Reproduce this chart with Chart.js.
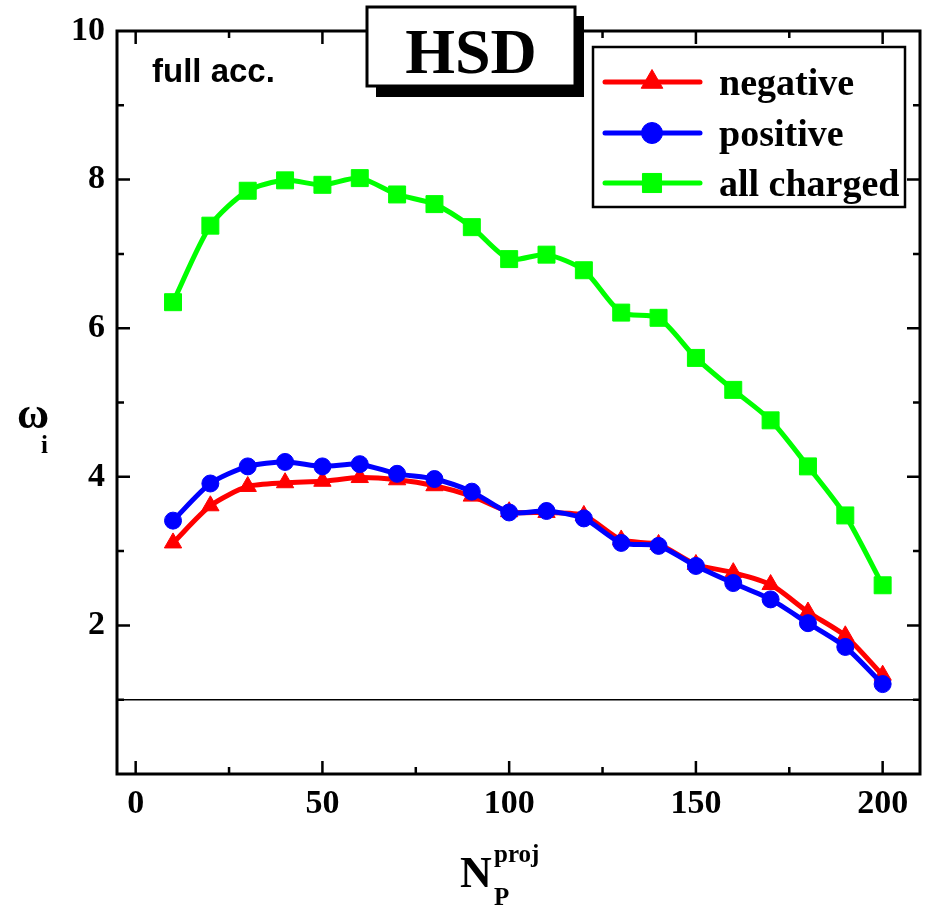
<!DOCTYPE html>
<html>
<head>
<meta charset="utf-8">
<script src="https://cdn.jsdelivr.net/npm/chart.js@4/dist/chart.umd.min.js"></script>
<style>
  html, body { margin: 0; padding: 0; background: #ffffff; }
  canvas { display: block; }
</style>
</head>
<body>
<canvas id="chart" width="933" height="907"></canvas>
<script>
// Number of projectile participants
const nProj = [10, 20, 30, 40, 50, 60, 70, 80, 90, 100, 110, 120, 130, 140, 150, 160, 170, 180, 190, 200];

// Scaled variance omega_i per charge class
const negative   = [3.11, 3.61, 3.87, 3.92, 3.94, 3.99, 3.96, 3.88, 3.74, 3.53, 3.52, 3.48, 3.15, 3.09, 2.82, 2.71, 2.55, 2.18, 1.86, 1.33];
const positive   = [3.41, 3.91, 4.14, 4.20, 4.14, 4.17, 4.04, 3.97, 3.80, 3.52, 3.54, 3.44, 3.11, 3.07, 2.80, 2.57, 2.35, 2.03, 1.71, 1.21];
const allCharged = [6.35, 7.38, 7.85, 7.99, 7.93, 8.02, 7.80, 7.67, 7.36, 6.93, 6.99, 6.78, 6.21, 6.14, 5.60, 5.17, 4.76, 4.14, 3.48, 2.54];

const seriesNames = ['negative', 'positive', 'all charged'];

// Labelled ticks and minor tick spacing
const xTicks = [0, 50, 100, 150, 200];
const yTicks = [2, 4, 6, 8, 10];
const xMinorStep = 25;
const yMinorStep = 1;

// Poisson reference level
const poissonLevel = 1;

const SERIF = '"Liberation Serif", "Times New Roman", serif';
const SANS = '"Liberation Sans", Arial, sans-serif';

function toPoints(values) {
  return nProj.map((x, i) => ({ x: x, y: values[i] }));
}

const series = [
  { label: seriesNames[0], data: toPoints(negative),   color: '#ff0000', style: 'triangle', radius: 10,  legendRadius: 12.5, order: 1 },
  { label: seriesNames[1], data: toPoints(positive),   color: '#0000ff', style: 'circle',   radius: 8.5, legendRadius: 10.5, order: 0 },
  { label: seriesNames[2], data: toPoints(allCharged), color: '#00ff00', style: 'rect',     radius: 12,  legendRadius: 13.5, order: 2 }
];

const datasets = series.map(s => ({
  label: s.label,
  data: s.data,
  borderColor: s.color,
  backgroundColor: s.color,
  pointBackgroundColor: s.color,
  pointBorderColor: s.color,
  pointStyle: s.style,
  pointRadius: s.radius,
  pointBorderWidth: 1,
  borderWidth: 5,
  tension: 0.25,
  order: s.order,
  clip: false
}));

// Reference line, frame with inward ticks, legend, tags and axis titles
const decorations = {
  id: 'decorations',
  beforeDatasetsDraw(chart) {
    const { ctx, chartArea: a, scales: { y } } = chart;
    const py = y.getPixelForValue(poissonLevel);
    ctx.save();
    ctx.strokeStyle = '#000';
    ctx.lineWidth = 1.5;
    ctx.beginPath();
    ctx.moveTo(a.left, py);
    ctx.lineTo(a.right, py);
    ctx.stroke();
    ctx.restore();
  },
  afterDatasetsDraw(chart) {
    const { ctx, chartArea: a, scales: { x, y } } = chart;
    ctx.save();

    // frame
    ctx.strokeStyle = '#000';
    ctx.lineWidth = 3;
    ctx.strokeRect(a.left, a.top, a.right - a.left, a.bottom - a.top);

    // ticks on all four sides
    ctx.lineWidth = 2.5;
    const majorLen = 13, minorLen = 7;
    ctx.beginPath();
    for (let v = Math.ceil(x.min / xMinorStep) * xMinorStep; v <= x.max; v += xMinorStep) {
      const px = x.getPixelForValue(v);
      const len = xTicks.includes(v) ? majorLen : minorLen;
      ctx.moveTo(px, a.bottom); ctx.lineTo(px, a.bottom - len);
      ctx.moveTo(px, a.top); ctx.lineTo(px, a.top + len);
    }
    for (let v = Math.ceil(y.min / yMinorStep) * yMinorStep + yMinorStep; v < y.max; v += yMinorStep) {
      const py = y.getPixelForValue(v);
      const len = yTicks.includes(v) ? majorLen : minorLen;
      ctx.moveTo(a.left, py); ctx.lineTo(a.left + len, py);
      ctx.moveTo(a.right, py); ctx.lineTo(a.right - len, py);
    }
    ctx.stroke();

    // "full acc." tag
    ctx.fillStyle = '#000';
    ctx.font = 'bold 33px ' + SANS;
    ctx.textAlign = 'left';
    ctx.textBaseline = 'alphabetic';
    ctx.fillText('full acc.', a.left + 35, a.top + 51);

    // HSD box with drop shadow
    const bx = 367, by = 7, bw = 208, bh = 79, sh = 9;
    ctx.fillStyle = '#000';
    ctx.fillRect(bx + sh, by + sh, bw, bh + 2);
    ctx.fillStyle = '#fff';
    ctx.fillRect(bx, by, bw, bh);
    ctx.strokeStyle = '#000';
    ctx.lineWidth = 3;
    ctx.strokeRect(bx, by, bw, bh);
    ctx.fillStyle = '#000';
    ctx.font = 'bold 64px ' + SERIF;
    ctx.textAlign = 'center';
    ctx.fillText('HSD', bx + bw / 2, by + 66);

    // legend
    const lx = 593, ly = 47, lw = 312, lh = 160;
    ctx.fillStyle = '#fff';
    ctx.fillRect(lx, ly, lw, lh);
    ctx.lineWidth = 2.5;
    ctx.strokeRect(lx, ly, lw, lh);
    const rowY = [82, 133, 183];
    chart.data.datasets.forEach((ds, i) => {
      const ry = rowY[i];
      ctx.strokeStyle = ds.borderColor;
      ctx.lineWidth = 5;
      ctx.lineCap = 'round';
      ctx.beginPath();
      ctx.moveTo(lx + 12, ry);
      ctx.lineTo(lx + 107, ry);
      ctx.stroke();
      ctx.lineCap = 'butt';
      ctx.fillStyle = ds.backgroundColor;
      ctx.strokeStyle = ds.borderColor;
      ctx.lineWidth = 1;
      Chart.helpers.drawPoint(ctx, { pointStyle: ds.pointStyle, radius: series[i].legendRadius, borderWidth: 1, rotation: 0 }, lx + 59, ry);
      ctx.fillStyle = '#000';
      ctx.font = 'bold 38px ' + SERIF;
      ctx.textAlign = 'left';
      ctx.fillText(ds.label, lx + 126, ry + 13);
    });

    // x-axis title: N_P^proj
    ctx.fillStyle = '#000';
    ctx.textAlign = 'left';
    ctx.font = 'bold 44px ' + SERIF;
    ctx.fillText('N', 460, 887);
    ctx.font = 'bold 25px ' + SERIF;
    ctx.fillText('proj', 494, 862);
    ctx.fillText('P', 494, 905);

    // y-axis title: omega_i
    ctx.font = 'bold 44px ' + SERIF;
    ctx.fillText('\u03c9', 17, 428);
    ctx.font = 'bold 25px ' + SERIF;
    ctx.fillText('i', 41, 453);

    ctx.restore();
  }
};

new Chart(document.getElementById('chart'), {
  type: 'line',
  data: { datasets: datasets },
  options: {
    responsive: false,
    animation: false,
    devicePixelRatio: 1,
    layout: { padding: { top: 31, right: 1, left: 0, bottom: 0 } },
    plugins: { legend: { display: false }, tooltip: { enabled: false }, title: { display: false } },
    scales: {
      x: {
        type: 'linear',
        min: -5,
        max: 210,
        afterBuildTicks: s => { s.ticks = xTicks.map(v => ({ value: v })); },
        afterFit: s => { s.height = 133; s.paddingLeft = 0; s.paddingRight = 0; },
        grid: { display: false, drawTicks: false },
        border: { display: false },
        ticks: { color: '#000', font: { family: SERIF, size: 34, weight: 'bold' }, padding: 10, maxRotation: 0, autoSkip: false }
      },
      y: {
        type: 'linear',
        min: 0,
        max: 10,
        afterBuildTicks: s => { s.ticks = yTicks.map(v => ({ value: v })); },
        afterFit: s => { s.width = 117; s.paddingTop = 0; s.paddingBottom = 0; },
        grid: { display: false, drawTicks: false },
        border: { display: false },
        ticks: { color: '#000', font: { family: SERIF, size: 34, weight: 'bold' }, padding: 12, autoSkip: false }
      }
    }
  },
  plugins: [decorations]
});
</script>
</body>
</html>
